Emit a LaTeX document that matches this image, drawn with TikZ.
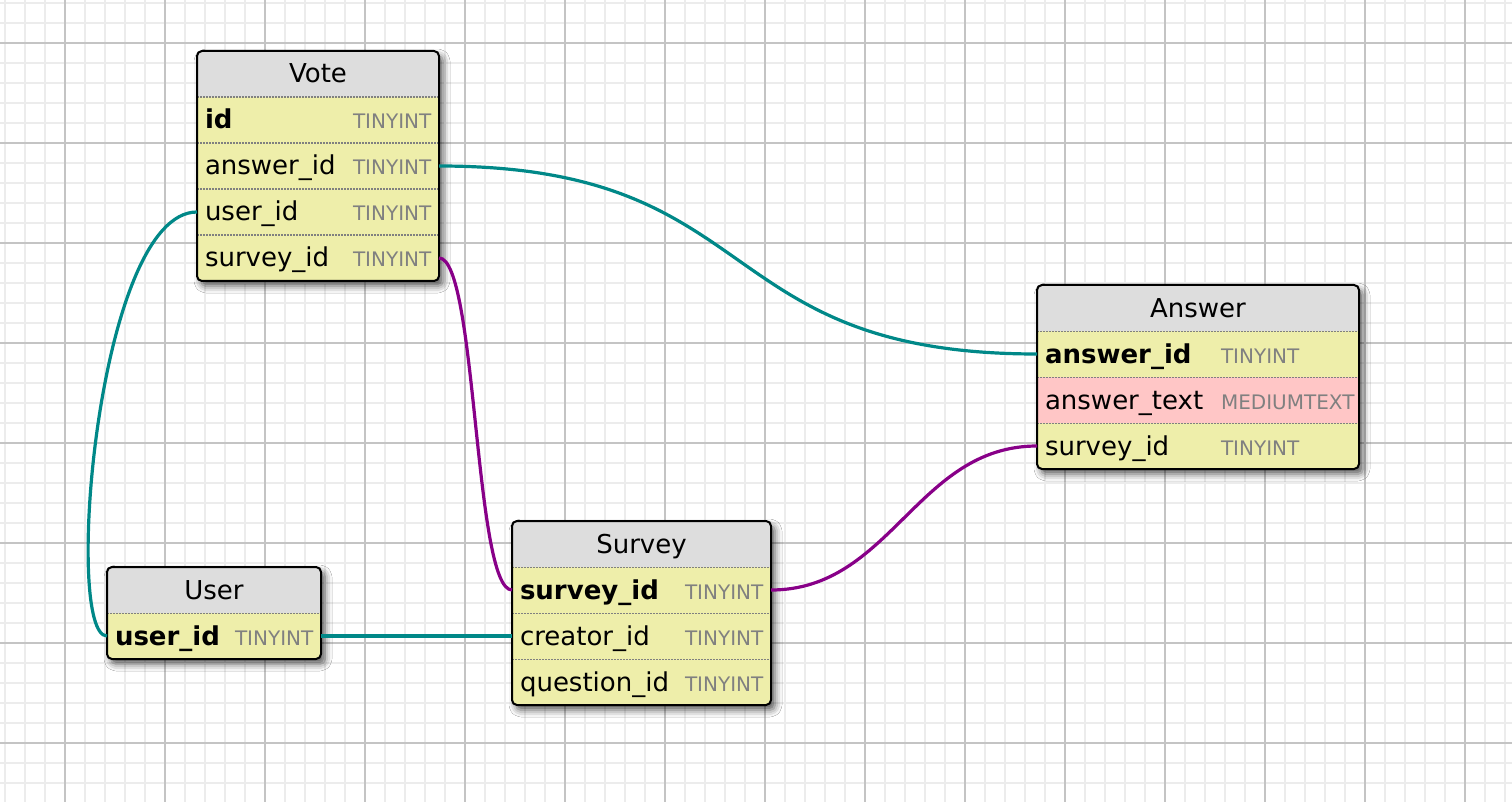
\documentclass[tikz,border=0pt]{standalone}
\usepackage{fontspec}
\setmainfont{DejaVu Sans}
\usetikzlibrary{positioning,shadows.blur}
\definecolor{grid_minor}{RGB}{236, 236, 236}
\definecolor{grid_major}{RGB}{196, 196, 196}
\definecolor{row_yellow}{RGB}{238, 238, 170}
\definecolor{row_pink}{RGB}{255, 198, 198}
\definecolor{head_grey}{RGB}{221, 221, 221}
\definecolor{type_grey}{RGB}{128, 128, 128}
\definecolor{fk_teal}{RGB}{0, 136, 136}
\definecolor{fk_purple}{RGB}{136, 0, 136}
\newcommand{\ty}[1]{{\fontsize{20}{24}\selectfont\color{type_grey}#1}}
\tikzstyle{tbl}=[rectangle,rounded corners=5pt,fill=white,inner sep=0pt,outer sep=0pt,
  anchor=north west,blur shadow={shadow xshift=4pt,shadow yshift=-5pt,
  shadow blur radius=7pt,shadow opacity=65}]
\tikzstyle{frame}=[draw=black,line width=2pt,rounded corners=5pt]
\tikzstyle{head}=[rectangle,fill=head_grey,minimum height=46pt,inner sep=0pt,outer sep=0pt,
  anchor=north west,font=\fontsize{26}{30}\selectfont,text height=22pt,text depth=4pt]
\tikzstyle{fld}=[rectangle,fill=row_yellow,minimum height=46pt,inner xsep=8pt,inner ysep=0pt,
  outer sep=0pt,align=left,font=\fontsize{26}{30}\selectfont,text height=22pt,text depth=4pt,
  path picture={\draw[type_grey,line width=1.5pt,dash pattern=on 1.5pt off 1.5pt]
  (path picture bounding box.north west) -- (path picture bounding box.north east);}]
\tikzstyle{link_teal}=[draw=fk_teal,line width=3.2pt]
\tikzstyle{link_purple}=[draw=fk_purple,line width=3.2pt]

\begin{document}
\begin{tikzpicture}[x=1pt,y=-1pt]
  \useasboundingbox (0,0) rectangle (1512,802);
  \fill[white] (0,0) rectangle (1512,802);
  % grid paper
  \foreach \x in {5,25,...,1505} \draw[grid_minor,line width=2pt] (\x,0) -- (\x,802);
  \foreach \y in {3,23,...,783} \draw[grid_minor,line width=2pt] (0,\y) -- (1512,\y);
  \foreach \x in {65,165,...,1465} \draw[grid_major,line width=1.5pt] (\x,0) -- (\x,802);
  \foreach \y in {43,143,...,743} \draw[grid_major,line width=1.5pt] (0,\y) -- (1512,\y);

  % Vote
  \node [tbl,minimum width=242pt,minimum height=230pt] (vote) at (197, 51) {};
  \begin{scope}
    \clip [rounded corners=5pt] (vote.north west) rectangle (vote.south east);
    \node [head,minimum width=242pt] (vote-head) at (197, 51) {Vote};
    \node [fld,text width=226pt,below=0pt of vote-head] (vote-id) {\makebox[148pt][l]{\bfseries id}\ty{TINYINT}};
    \node [fld,text width=226pt,below=0pt of vote-id] (vote-answer) {\makebox[148pt][l]{answer\_id}\ty{TINYINT}};
    \node [fld,text width=226pt,below=0pt of vote-answer] (vote-user) {\makebox[148pt][l]{user\_id}\ty{TINYINT}};
    \node [fld,text width=226pt,below=0pt of vote-user] (vote-survey) {\makebox[148pt][l]{survey\_id}\ty{TINYINT}};
  \end{scope}
  \draw [frame] (vote.north west) rectangle (vote.south east);

  % Answer
  \node [tbl,minimum width=322pt,minimum height=184pt] (answer) at (1037, 285) {};
  \begin{scope}
    \clip [rounded corners=5pt] (answer.north west) rectangle (answer.south east);
    \node [head,minimum width=322pt] (answer-head) at (1037, 285) {Answer};
    \node [fld,text width=306pt,below=0pt of answer-head] (answer-id) {\makebox[176pt][l]{\bfseries answer\_id}\ty{TINYINT}};
    \node [fld,text width=306pt,fill=row_pink,below=0pt of answer-id] (answer-text) {\makebox[176pt][l]{answer\_text}\ty{MEDIUMTEXT}};
    \node [fld,text width=306pt,below=0pt of answer-text] (answer-survey) {\makebox[176pt][l]{survey\_id}\ty{TINYINT}};
  \end{scope}
  \draw [frame] (answer.north west) rectangle (answer.south east);

  % User
  \node [tbl,minimum width=214pt,minimum height=92pt] (user) at (107, 567) {};
  \begin{scope}
    \clip [rounded corners=5pt] (user.north west) rectangle (user.south east);
    \node [head,minimum width=214pt] (user-head) at (107, 567) {User};
    \node [fld,text width=198pt,below=0pt of user-head] (user-id) {\makebox[120pt][l]{\bfseries user\_id}\ty{TINYINT}};
  \end{scope}
  \draw [frame] (user.north west) rectangle (user.south east);

  % Survey
  \node [tbl,minimum width=259pt,minimum height=184pt] (survey) at (512, 521) {};
  \begin{scope}
    \clip [rounded corners=5pt] (survey.north west) rectangle (survey.south east);
    \node [head,minimum width=259pt] (survey-head) at (512, 521) {Survey};
    \node [fld,text width=243pt,below=0pt of survey-head] (survey-id) {\makebox[165pt][l]{\bfseries survey\_id}\ty{TINYINT}};
    \node [fld,text width=243pt,below=0pt of survey-id] (survey-creator) {\makebox[165pt][l]{creator\_id}\ty{TINYINT}};
    \node [fld,text width=243pt,below=0pt of survey-creator] (survey-question) {\makebox[165pt][l]{question\_id}\ty{TINYINT}};
  \end{scope}
  \draw [frame] (survey.north west) rectangle (survey.south east);

  % foreign keys
  \draw [link_teal] (vote-answer.east) .. controls +(330,0) and +(-330,0) .. (answer-id.west);
  \draw [link_teal] (vote-user.west) .. controls +(-100,0) and +(-44,0) .. (user-id.west);
  \draw [link_teal] (user-id.east) -- (survey-creator.west);
  \draw [link_purple] (vote-survey.east) .. controls +(38,0) and +(-38,0) .. (survey-id.west);
  \draw [link_purple] (survey-id.east) .. controls +(120,0) and +(-120,0) .. (answer-survey.west);
\end{tikzpicture}
\end{document}
